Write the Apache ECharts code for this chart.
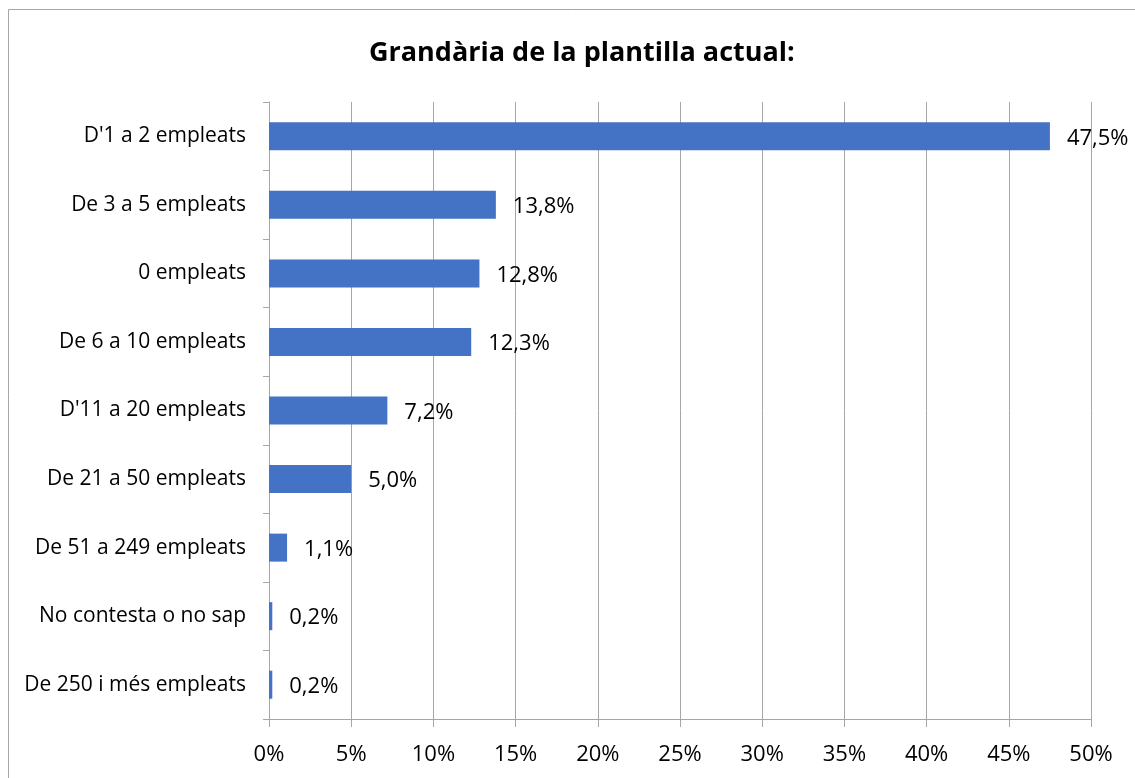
<!DOCTYPE html>
<html>
<head>
<meta charset="utf-8">
<script src="https://cdn.jsdelivr.net/npm/echarts@6/dist/echarts.min.js"></script>
<style>
html, body { margin: 0; padding: 0; background: #fff; }
#chart { width: 1135px; height: 778px; }
</style>
</head>
<body>
<div id="chart"></div>
<script>
var categories = [
    "D'1 a 2 empleats",
    'De 3 a 5 empleats',
    '0 empleats',
    'De 6 a 10 empleats',
    "D'11 a 20 empleats",
    'De 21 a 50 empleats',
    'De 51 a 249 empleats',
    'No contesta o no sap',
    'De 250 i més empleats'
];
var percentages = [47.5, 13.8, 12.8, 12.3, 7.2, 5.0, 1.1, 0.2, 0.2];

var font = '"Open Sans", Lato, sans-serif';
var chart = echarts.init(document.getElementById('chart'));
chart.setOption({
    animation: false,
    title: {
        text: 'Grandària de la plantilla actual:',
        left: 364,
        top: 35,
        textStyle: { fontFamily: font, fontSize: 27, fontWeight: 'bold', color: '#000' }
    },
    graphic: [{
        type: 'rect',
        shape: { x: 8.5, y: 9.5, width: 1140, height: 790 },
        style: { fill: 'none', stroke: '#a6a6a6', lineWidth: 1 },
        silent: true
    }],
    grid: { left: 269, right: 44, top: 102, bottom: 59 },
    xAxis: {
        type: 'value',
        min: 0,
        max: 50,
        interval: 5,
        axisLine: { show: true, lineStyle: { color: '#a6a6a6' } },
        axisTick: { show: true, length: 8, lineStyle: { color: '#a6a6a6' } },
        splitLine: { show: true, lineStyle: { color: '#a6a6a6' } },
        axisLabel: {
            formatter: '{value}%',
            margin: 25,
            fontFamily: font, fontSize: 22, color: '#000'
        }
    },
    yAxis: {
        type: 'category',
        inverse: true,
        data: categories,
        axisLine: { show: true, lineStyle: { color: '#a6a6a6' } },
        axisTick: { show: true, length: 6, lineStyle: { color: '#a6a6a6' } },
        axisLabel: { margin: 23, fontFamily: font, fontSize: 21, color: '#000' }
    },
    series: [{
        type: 'bar',
        data: percentages,
        barWidth: 28,
        itemStyle: { color: '#4472C4' },
        label: {
            show: true,
            position: 'right',
            distance: 17,
            offset: [0, 2],
            fontFamily: font,
            fontSize: 22,
            color: '#000',
            formatter: function (p) {
                return p.value.toFixed(1).replace('.', ',') + '%';
            }
        }
    }]
});
</script>
</body>
</html>
